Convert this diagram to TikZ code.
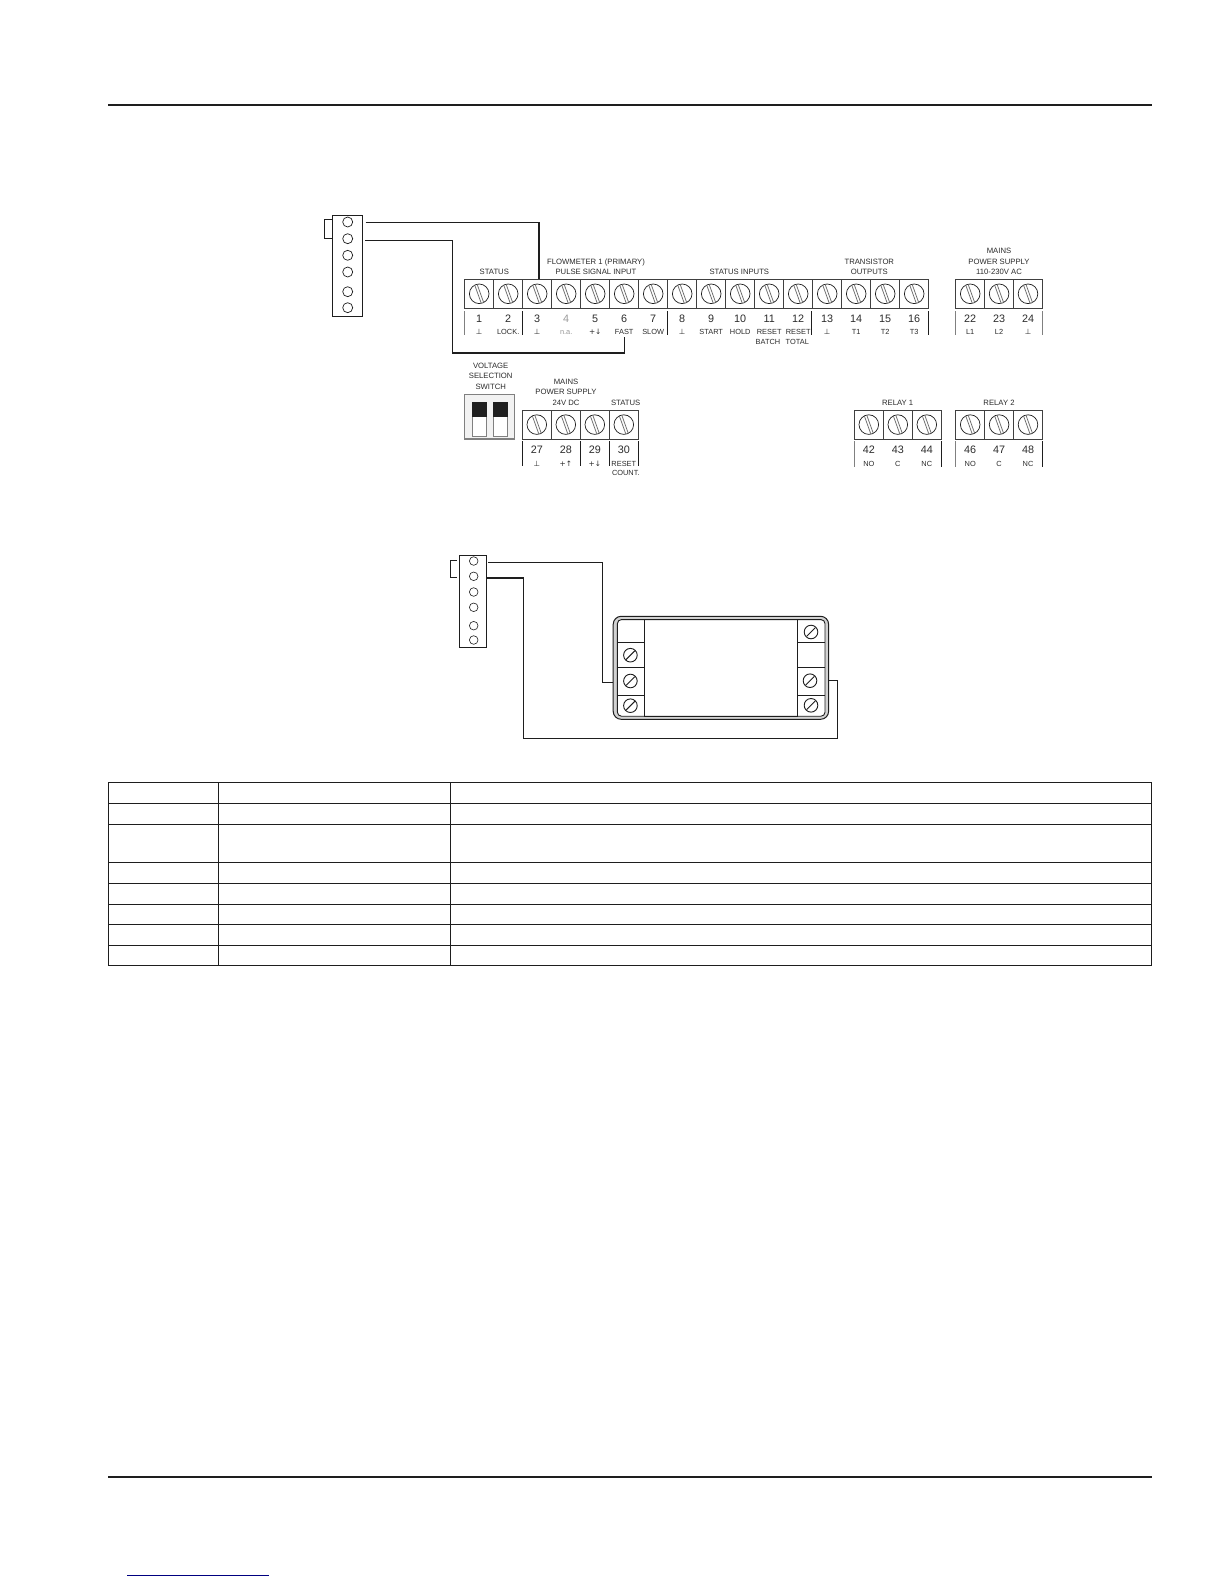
\documentclass[tikz,border=0pt]{standalone}
\usepackage{fontspec}
\setmainfont{Liberation Sans}
\newfontfamily\symf{DejaVu Sans}
\definecolor{ink}{HTML}{1E1E1E}
\definecolor{txt}{HTML}{2C2C2C}
\definecolor{linkblue}{HTML}{000080}
\newcommand{\gnd}{{\symf ⊥}}
\newcommand{\pdown}{{\symf +↓}}
\newcommand{\pup}{{\symf +↑}}
\tikzset{
  x=1pt,y=-1pt,
  cell/.style={draw=ink!85,line width=.7pt,minimum width=29pt,minimum height=29pt,inner sep=0pt,outer sep=0pt},
  numlab/.style={font=\fontsize{10.8}{11}\selectfont,text=txt,inner sep=0pt,text height=7.5pt,text depth=0pt},
  tinylab/.style={font=\fontsize{7.4}{8}\selectfont,text=txt,inner sep=0pt,text height=5.2pt,text depth=0pt},
  headlab/.style={font=\fontsize{7.7}{8}\selectfont,text=txt,inner sep=0pt,text height=5.5pt,text depth=0pt},
  tick/.style={draw=ink,line width=.8pt},
  gtick/.style={draw=gray,line width=.9pt},
  wire/.style={draw=ink,line width=1.5pt,line join=miter},
  thinwire/.style={draw=ink,line width=1pt},
  hole/.style={circle,draw=ink,line width=.7pt,minimum size=10pt,inner sep=0pt,outer sep=0pt},
  smallhole/.style={circle,draw=ink,line width=.6pt,minimum size=8.6pt,inner sep=0pt,outer sep=0pt},
  connbox/.style={draw=ink,line width=.9pt,inner sep=0pt,outer sep=0pt},
  tableline/.style={draw=ink,line width=1pt},
  rule/.style={draw=ink,line width=2pt},
  screw/.pic={
    \draw[ink,line width=.7pt] (0,0) circle (9.8);
    \draw[ink!65,line width=.75pt] (-2.1,-9.6) -- (4.5,8.8);
    \draw[ink!65,line width=.75pt] (-4.5,-8.8) -- (2.1,9.6);
  },
  smallscrew/.pic={
    \draw[ink,line width=.9pt] (0,0) circle (6.8);
    \draw[ink,line width=.9pt] (-4.4,4.4) -- (4.4,-4.4);
  }
}
\begin{document}
\begin{tikzpicture}
\useasboundingbox (0,0) rectangle (1224,1584);
\fill[white] (0,0) rectangle (1224,1584);
% page rules
\draw[rule] (108,105) -- (1152,105);
\draw[rule] (108,1476.7) -- (1152,1476.7);
\draw[linkblue,line width=.8pt] (127,1575.3) -- (269,1575.3);

% ---- upper terminal row
\foreach \n/\lab [count=\i from 0] in {1/\gnd,2/LOCK.,3/\gnd,4/n.a.,5/\pdown,6/FAST,7/SLOW,8/\gnd,9/START,10/HOLD,11/RESET,12/RESET,13/\gnd,14/T1,15/T2,16/T3}{
  \pgfmathsetmacro{\cx}{479.2+29*\i}
  \node[cell] (t\n) at (\cx,293.8) {};
  \pic at (t\n) {screw};
  \ifnum\n=4
    \node[numlab,text=gray!80] (n\n) at (\cx,319) {\n};
    \node[tinylab,text=gray!80] (l\n) at (\cx,332.2) {\lab};
  \else
    \node[numlab] (n\n) at (\cx,319) {\n};
    \node[tinylab] (l\n) at (\cx,332.2) {\lab};
  \fi
}
\foreach \n/\lab [count=\i from 0] in {22/L1,23/L2,24/\gnd}{
  \pgfmathsetmacro{\cx}{970.2+28.9*\i}
  \node[cell] (t\n) at (\cx,293.8) {};
  \pic at (t\n) {screw};
  \node[numlab] (n\n) at (\cx,319) {\n};
  \node[tinylab] (l\n) at (\cx,332.2) {\lab};
}
\foreach \x in {522.7,667.3,811.7,928.3} \draw[tick] (\x,311) -- (\x,335);
\foreach \x in {464.7,955.7,1042.3} \draw[gtick] (\x,311) -- (\x,335);
\node[tinylab] (b11) at (768,342.3) {BATCH};
\node[tinylab] (b12) at (797.3,342.3) {TOTAL};

\node[headlab] (hstatus) at (494.3,271.7) {STATUS};
\node[headlab] (hflow) at (596,261.7) {FLOWMETER 1 (PRIMARY)};
\node[headlab] (hpulse) at (596,271.7) {PULSE SIGNAL INPUT};
\node[headlab] (hsi) at (739.3,271.7) {STATUS INPUTS};
\node[headlab] (htr) at (869.3,261.7) {TRANSISTOR};
\node[headlab] (hout) at (869.3,271.7) {OUTPUTS};
\node[headlab] (hm1) at (999,251) {MAINS};
\node[headlab] (hm2) at (999,261.5) {POWER SUPPLY};
\node[headlab] (hm3) at (999,272) {110-230V AC};

% ---- lower terminal row
\foreach \n/\lab [count=\i from 0] in {27/\gnd,28/\pup,29/\pdown,30/RESET}{
  \pgfmathsetmacro{\cx}{536.8+29*\i}
  \node[cell] (t\n) at (\cx,424.6) {};
  \pic at (t\n) {screw};
  \node[numlab] (n\n) at (\cx,450) {\n};
  \node[tinylab] (l\n) at (\cx,463.5) {\lab};
}
\node[tinylab] (b30) at (625.8,472.7) {COUNT.};
\foreach \x in {522.3,580.7,609.3,638.7} \draw[tick] (\x,441) -- (\x,466);
\foreach \n/\lab [count=\i from 0] in {42/NO,43/C,44/NC}{
  \pgfmathsetmacro{\cx}{868.8+29*\i}
  \node[cell] (t\n) at (\cx,424.6) {};
  \pic at (t\n) {screw};
  \node[numlab] (n\n) at (\cx,450) {\n};
  \node[tinylab] (l\n) at (\cx,464) {\lab};
}
\foreach \n/\lab [count=\i from 0] in {46/NO,47/C,48/NC}{
  \pgfmathsetmacro{\cx}{970.2+28.9*\i}
  \node[cell] (t\n) at (\cx,424.6) {};
  \pic at (t\n) {screw};
  \node[numlab] (n\n) at (\cx,450) {\n};
  \node[tinylab] (l\n) at (\cx,464) {\lab};
}
\foreach \x in {854.3,955.7} \draw[gtick] (\x,441) -- (\x,466.5);
\foreach \x in {941.7,1042.3} \draw[tick] (\x,441) -- (\x,466.5);

\node[headlab] (hv1) at (490.7,365.7) {VOLTAGE};
\node[headlab] (hv2) at (490.7,375.7) {SELECTION};
\node[headlab] (hv3) at (490.7,386.3) {SWITCH};
\node[headlab] (hd1) at (566,382) {MAINS};
\node[headlab] (hd2) at (566,392) {POWER SUPPLY};
\node[headlab] (hd3) at (566,403) {24V DC};
\node[headlab] (hs30) at (625.7,403) {STATUS};
\node[headlab] (hr1) at (897.7,402.7) {RELAY 1};
\node[headlab] (hr2) at (999,402.7) {RELAY 2};

% voltage switch
\draw[gray,line width=1.1pt,fill=gray!10] (464.3,394.3) rectangle (514.3,439);
\foreach \x in {472.3,493.3}{
  \draw[gray,line width=.7pt,fill=white] (\x,402) rectangle ++(14.4,34);
  \fill[black!88] (\x,402) rectangle ++(14.4,14.7);
}

% ---- upper connector
\node[connbox,minimum width=30pt,minimum height=100.5pt] (cona) at (347.5,265.75) {};
\foreach \k/\y in {1/222,2/238.7,3/255.3,4/272,5/291.7,6/307.7}
  \node[hole] (a\k) at (347.7,\y) {};
\coordinate (abr1) at (332.5,219.3);
\coordinate (abr2) at (332.5,238.3);
\draw[thinwire] (abr1) -- ++(-8.2,0) |- (abr2);
\coordinate (aw1) at (365.7,222.7);
\coordinate (aw2) at (365,240.3);
\coordinate (tw3) at (539,279.3);
\coordinate (tw6) at (624.3,336.5);
\draw[wire] (aw1) -| (tw3);
\draw[wire] (aw2) -- (452.3,240.3) -- (452.3,353) -| (tw6);

% ---- lower connector
\node[connbox,minimum width=27.4pt,minimum height=92.3pt] (conb) at (473,601.15) {};
\foreach \k/\y in {1/561,2/576.3,3/592,4/607.3,5/625.7,6/640}
  \node[smallhole] (b\k) at (473.7,\y) {};
\coordinate (bbr1) at (456.7,560.3);
\coordinate (bbr2) at (456.7,577.3);
\draw[thinwire] (bbr1) -- (450.7,560.3) |- (bbr2);

% ---- device
\draw[ink,line width=1pt,rounded corners=8pt,fill=gray!35] (613.2,616.3) rectangle (828.6,719.3);
\draw[ink,line width=.9pt,rounded corners=4pt,fill=white] (617.4,619.6) rectangle (825,716.2);
\node[draw=ink,line width=1pt,inner sep=0pt,outer sep=0pt,minimum width=153.4pt,minimum height=96.6pt] (disp) at (721,667.9) {};
\foreach \y in {642.5,667.3,695.3}{
  \draw[ink,line width=.9pt] (617.4,\y) -- (644.3,\y);
  \draw[ink,line width=.9pt] (797.7,\y) -- (825,\y);
}
\foreach \x/\y in {630.4/655.2,630.4/681,630.4/705.7,811/632,810/680.7,811/705.3}
  \pic at (\x,\y) {smallscrew};
\coordinate (dw1) at (613.3,682.3);
\coordinate (dw2) at (828.3,680.3);
\coordinate (bw1) at (488.3,562.3);
\coordinate (bw2) at (486.7,578);
\draw[wire,line width=1.2pt] (bw1) -- (602.7,562.3) |- (dw1);
\draw[wire,line width=1.3pt] (bw2) -- (523.7,578) -- (523.7,738.7) -- (837.7,738.7) |- (dw2);

% ---- table
\draw[tableline] (108.3,782.7) rectangle (1151.6,965.3);
\foreach \y in {803.3,824.3,862.3,883.3,904.3,924.3,945.3}
  \draw[tableline] (108.3,\y) -- (1151.6,\y);
\foreach \x in {218.3,450.7}
  \draw[tableline] (\x,782.7) -- (\x,965.3);
\end{tikzpicture}
\end{document}
